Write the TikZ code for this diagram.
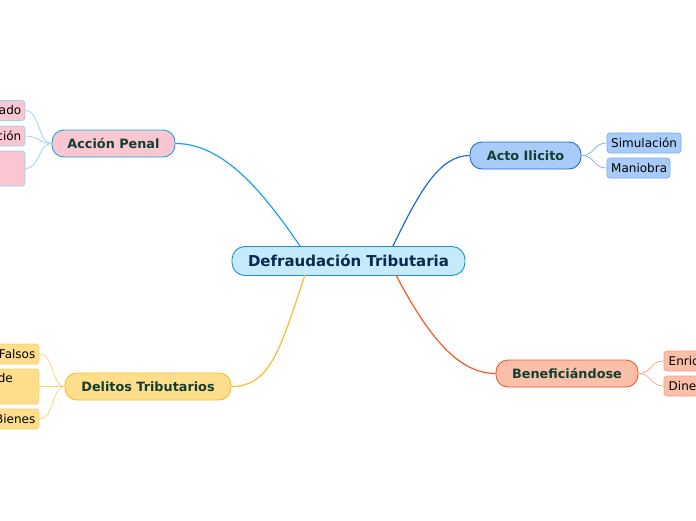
\documentclass[tikz,border=0pt]{standalone}
\usepackage{fontspec}
\setmainfont{DejaVu Sans}
\begin{document}
\begin{tikzpicture}[x=1pt,y=-1pt,
  central/.style={draw=#1,line width=0.9pt,rounded corners=13pt,inner sep=0pt,font=\fontsize{15}{18}\bfseries,text=cTxt},
  branch/.style={line width=0.9pt,rounded corners=12pt,inner sep=0pt,minimum height=27pt,font=\fontsize{12.8}{15}\bfseries,text=bTxt},
  leaf/.style={line width=0.7pt,rounded corners=3pt,inner sep=0pt,font=\fontsize{12}{14}\selectfont,text=black},
  ltext/.style={inner sep=0pt,font=\fontsize{12}{14}\selectfont,text=black},
  mainln/.style={line width=1.2pt},
  leafln/.style={line width=0.7pt}]
\definecolor{cTxt}{HTML}{0B2A4F}
\definecolor{bTxt}{HTML}{123F2F}
\definecolor{cFill}{HTML}{C5EAFB}\definecolor{cDraw}{HTML}{1B8FD6}
\definecolor{pFill}{HTML}{F9C6D1}\definecolor{pDraw}{HTML}{1AA3E8}\definecolor{pLeaf}{HTML}{8FD3F3}
\definecolor{aFill}{HTML}{A7CCF9}\definecolor{aDraw}{HTML}{1F6CD4}\definecolor{aLeaf}{HTML}{7EAAF0}
\definecolor{bFill}{HTML}{FBBFA9}\definecolor{bDraw}{HTML}{F25A27}\definecolor{bLeaf}{HTML}{F7A084}
\definecolor{dFill}{HTML}{FEDD8B}\definecolor{dDraw}{HTML}{F9BE2E}\definecolor{dLeaf}{HTML}{FBD370}
\useasboundingbox[fill=white] (0,0) rectangle (696,520);

% central
\node[central=cDraw,fill=cFill,minimum width=233pt,minimum height=29pt] (c) at (348.5,261) {Defraudación Tributaria};

% branches
\node[branch,draw=pDraw,fill=pFill,minimum width=123pt] (ap) at (113.5,143.5) {Acción Penal};
\node[branch,draw=aDraw,fill=aFill,minimum width=111pt] (ai) at (525.5,155.5) {Acto Ilicito};
\node[branch,draw=bDraw,fill=bFill,minimum width=142pt] (be) at (567,373.5) {Beneficiándose};
\node[branch,draw=dDraw,fill=dFill,minimum width=166pt] (dt) at (148,386.5) {Delitos Tributarios};

% main connectors
\coordinate (c1) at (300,246);
\coordinate (c2) at (393,246);
\coordinate (c3) at (396,275);
\coordinate (c4) at (305,275);
\draw[mainln,draw=pDraw] (c1) .. controls (265,195) and (225,143.5) .. (ap.east);
\draw[mainln,draw=aDraw] (c2) .. controls (420,190) and (440,155.5) .. (ai.west);
\draw[mainln,draw=bDraw] (c3) .. controls (430,340) and (460,373.5) .. (be.west);
\draw[mainln,draw=dDraw] (c4) .. controls (280,350) and (270,386.5) .. (dt.east);

% Accion Penal leaves
\node[leaf,draw=pLeaf,fill=pFill,minimum width=90pt,minimum height=20pt] (ap1) at (-20,110.5) {};
\node[leaf,draw=pLeaf,fill=pFill,minimum width=90pt,minimum height=20pt] (ap2) at (-20,136) {};
\node[leaf,draw=pLeaf,fill=pFill,minimum width=90pt,minimum height=35pt] (ap3) at (-20,168.5) {};
\node[ltext,anchor=east] (ap1t) at (21.5,110.5) {ado};
\node[ltext,anchor=east] (ap2t) at (21.5,136) {ción};
\draw[leafln,draw=pLeaf] (ap.west) .. controls (38,143.5) and (40,110.5) .. (ap1.east);
\draw[leafln,draw=pLeaf] (ap.west) .. controls (40,143.5) and (38,136) .. (ap2.east);
\draw[leafln,draw=pLeaf] (ap.west) .. controls (38,143.5) and (40,168.5) .. (ap3.east);

% Acto Ilicito leaves
\node[leaf,draw=aLeaf,fill=aFill,minimum width=74pt,minimum height=20pt] (ai1) at (644,143) {};
\node[leaf,draw=aLeaf,fill=aFill,minimum width=63pt,minimum height=20pt] (ai2) at (638.5,168) {};
\node[ltext,anchor=west] (ai1t) at (611,143) {Simulación};
\node[ltext,anchor=west] (ai2t) at (611,168) {Maniobra};
\draw[leafln,draw=aLeaf] (ai.east) .. controls (595,155.5) and (593,143) .. (ai1.west);
\draw[leafln,draw=aLeaf] (ai.east) .. controls (595,155.5) and (593,168) .. (ai2.west);

% Beneficiandose leaves
\node[leaf,draw=bLeaf,fill=bFill,minimum width=80pt,minimum height=20pt] (be1) at (704,361) {};
\node[leaf,draw=bLeaf,fill=bFill,minimum width=80pt,minimum height=20pt] (be2) at (704,386) {};
\node[ltext,anchor=west] (be1t) at (668.5,361) {Enric};
\node[ltext,anchor=west] (be2t) at (668.5,386) {Dine};
\draw[leafln,draw=bLeaf] (be.east) .. controls (652,373.5) and (650,361) .. (be1.west);
\draw[leafln,draw=bLeaf] (be.east) .. controls (652,373.5) and (650,386) .. (be2.west);

% Delitos Tributarios leaves
\node[leaf,draw=dLeaf,fill=dFill,minimum width=90pt,minimum height=20pt] (dt1) at (-6,354) {};
\node[leaf,draw=dLeaf,fill=dFill,minimum width=90pt,minimum height=35pt] (dt2) at (-6,386.5) {};
\node[leaf,draw=dLeaf,fill=dFill,minimum width=90pt,minimum height=20pt] (dt3) at (-6,419) {};
\node[ltext,anchor=east] (dt1t) at (35.5,354) {Falsos};
\node[ltext,anchor=base east] (dt2t) at (13,382.5) {de};
\node[ltext,anchor=east] (dt3t) at (35.5,419) {Bienes};
\draw[leafln,draw=dLeaf] (dt.west) .. controls (52,386.5) and (54,354) .. (dt1.east);
\draw[leafln,draw=dLeaf] (dt.west) -- (dt2.east);
\draw[leafln,draw=dLeaf] (dt.west) .. controls (52,386.5) and (54,419) .. (dt3.east);
\end{tikzpicture}
\end{document}
